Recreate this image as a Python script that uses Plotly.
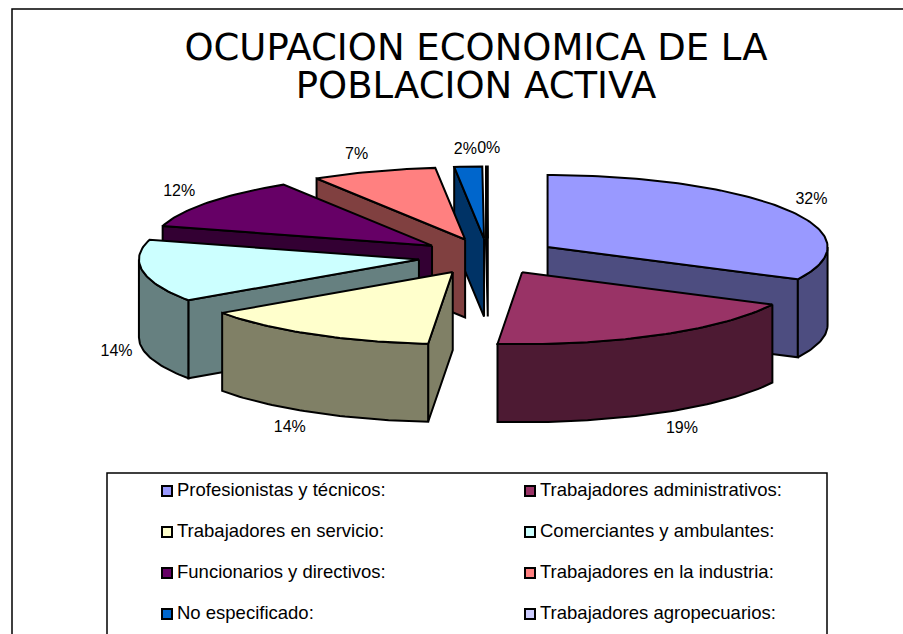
import math
import plotly.graph_objects as go

categories = ["Profesionistas y técnicos:", "Trabajadores administrativos:",
              "Trabajadores en servicio:", "Comerciantes y ambulantes:",
              "Funcionarios y directivos:", "Trabajadores en la industria:",
              "No especificado:", "Trabajadores agropecuarios:"]
values = [32.4, 19.0, 14.0, 14.0, 11.7, 7.2, 1.6, 0.1]
top_colors = ["#9999FF", "#993366", "#FFFFCC", "#CCFFFF", "#660066", "#FF8080", "#0066CC", "#CCCCFF"]
wall_colors = ["#4D4D80", "#4D1A33", "#808066", "#668080", "#330033", "#804040", "#003366", "#666680"]
title_lines = ["OCUPACION ECONOMICA DE LA", "POBLACION ACTIVA"]

W, H = 903, 634
CX, CY = 488, 256.5    # pie centre on the page
RX, RY = 280, 72       # ellipse radii of the tilted disc
EX, EY = 70, 18        # explosion distance
DEPTH = 78
draw_order = [7, 6, 5, 4, 3, 2, 0, 1]
label_nudge = [(-3, 0), (7, 0), (-5, 0), (7, 0), (-2, 0), (-6, 1), (-1, 1), (2, 0)]


def pt(ax, ay, t, dz=0):
    return ax + RX * math.sin(t), ay - RY * math.cos(t) + dz


def arc(ax, ay, t0, t1, dz=0):
    n = max(2, int(abs(t1 - t0) / 0.02))
    return [pt(ax, ay, t0 + (t1 - t0) * i / n, dz) for i in range(n + 1)]


fig = go.Figure()


def poly(points, color, name):
    xs = [p[0] for p in points] + [points[0][0]]
    ys = [p[1] for p in points] + [points[0][1]]
    fig.add_trace(go.Scatter(x=xs, y=ys, mode="lines", fill="toself", fillcolor=color,
                             line=dict(color="black", width=2), name=name,
                             hoverinfo="name", showlegend=False))


total = sum(values)
angles = []
acc = 0
for v in values:
    angles.append((acc / total * 2 * math.pi, (acc + v) / total * 2 * math.pi))
    acc += v

label_x, label_y, label_text = [], [], []
for i, v in enumerate(values):
    t0, t1 = angles[i]
    m = (t0 + t1) / 2
    ax = CX + EX * math.sin(m)
    ay = CY - EY * math.cos(m)
    lx = ax + RX * math.sin(m) * 1.12 + label_nudge[i][0]
    ly = ay - RY * math.cos(m) * 1.25 + (DEPTH if math.cos(m) < 0 else 0) + label_nudge[i][1]
    label_x.append(lx)
    label_y.append(ly)
    label_text.append(f"{round(v / total * 100)}%")

for i in draw_order:
    t0, t1 = angles[i]
    m = (t0 + t1) / 2
    ax = CX + EX * math.sin(m)
    ay = CY - EY * math.cos(m)
    name = categories[i]
    if math.sin(t0) < 0:
        poly([(ax, ay), pt(ax, ay, t0), pt(ax, ay, t0, DEPTH), (ax, ay + DEPTH)], wall_colors[i], name)
    if math.sin(t1) > 0:
        poly([(ax, ay), pt(ax, ay, t1), pt(ax, ay, t1, DEPTH), (ax, ay + DEPTH)], wall_colors[i], name)
    a0, a1 = max(t0, math.pi / 2), min(t1, 3 * math.pi / 2)
    if a1 > a0:
        poly(arc(ax, ay, a0, a1) + arc(ax, ay, a1, a0, DEPTH), wall_colors[i], name)
    poly([(ax, ay)] + arc(ax, ay, t0, t1), top_colors[i], name)

fig.add_trace(go.Scatter(x=label_x, y=label_y, text=label_text, mode="text",
                         textfont=dict(family="Liberation Sans", size=16, color="black"),
                         hoverinfo="skip", showlegend=False))

# Legend block
LEG_X = [167, 530]
LEG_Y0, LEG_DY = 491, 41
leg_x = [LEG_X[i % 2] for i in range(len(categories))]
leg_y = [LEG_Y0 + LEG_DY * (i // 2) for i in range(len(categories))]
fig.add_trace(go.Scatter(x=leg_x, y=leg_y, mode="markers",
                         marker=dict(symbol="square", size=10, color=top_colors,
                                     line=dict(color="black", width=2)),
                         text=categories, hoverinfo="text", showlegend=False))
fig.add_trace(go.Scatter(x=[x + 10 for x in leg_x], y=leg_y, text=categories, mode="text",
                         textposition="middle right",
                         textfont=dict(family="Liberation Sans", size=18.5, color="black"),
                         hoverinfo="skip", showlegend=False))

fig.update_layout(
    width=W, height=H, margin=dict(l=0, r=0, t=0, b=0, autoexpand=False),
    paper_bgcolor="white", plot_bgcolor="white", showlegend=False,
    xaxis=dict(range=[0, W], visible=False, fixedrange=True),
    yaxis=dict(range=[H, 0], visible=False, fixedrange=True),
    title=dict(
        text="<br>".join(f'<span style="font-size:37px">{t}</span>' for t in title_lines),
        font=dict(family="DejaVu Sans", size=29, color="black"),
        x=476 / W, xanchor="center", xref="paper",
        y=1 - 60 / H, yanchor="bottom", yref="container",
    ),
    shapes=[
        dict(type="rect", layer="below", x0=12, y0=9, x1=W + 20, y1=H + 20, line=dict(color="black", width=1.5)),
        dict(type="rect", layer="below", x0=107, y0=473, x1=827, y1=H + 20, line=dict(color="black", width=1.5)),
    ],
)

fig.write_html("out.html", config={"displayModeBar": False},
               post_script="document.body.style.margin='0';document.body.style.overflow='hidden';")
